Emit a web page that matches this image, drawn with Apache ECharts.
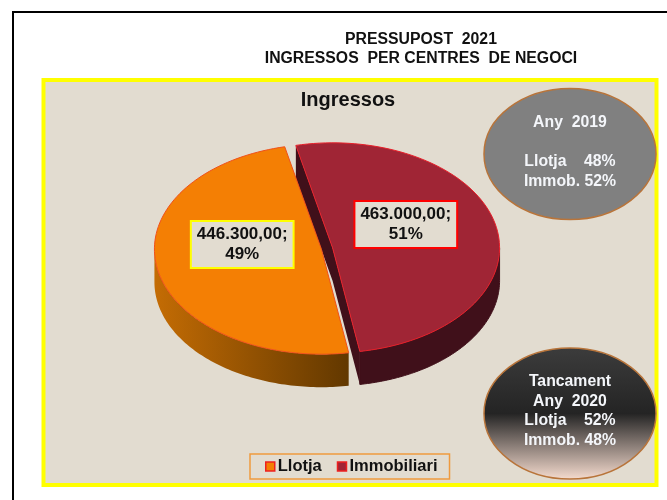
<!DOCTYPE html>
<html>
<head>
<meta charset="utf-8">
<title>Pressupost 2021</title>
<style>
    html, body { margin: 0; padding: 0; background: #fff; }
    #chart { width: 667px; height: 500px; }
</style>
<script src="https://cdn.jsdelivr.net/npm/echarts@6/dist/echarts.min.js"></script>
</head>
<body>
<div id="chart"></div>
<script>
const categories = ['Llotja', 'Immobiliari'];
const values = [446300, 463000];
const valueLabels = ['446.300,00', '463.000,00'];
const titleLines = ['PRESSUPOST  2021', 'INGRESSOS  PER CENTRES  DE NEGOCI'];
const note2019 = ['Any  2019', '', 'Llotja    48%', 'Immob. 52%'];
const note2020 = ['Tancament', 'Any  2020', 'Llotja    52%', 'Immob. 48%'];

const FONT = '"Liberation Sans", Arial, sans-serif';
const total = values[0] + values[1];

// fake 3D pie: ellipse top + extruded wall, angles clockwise from 12 o'clock
const pie = { cx: 327, cy: 248.5, a: 167, b: 105, depth: 33, startAngle: -12.7, explode: 0.034 };

const sliceStyle = [
    {
        top: '#f47f04',
        border: '#f0501a',
        wall: { type: 'linear', x: 0, y: 0, x2: 1, y2: 0, colorStops: [
            { offset: 0, color: '#c46c04' }, { offset: 1, color: '#623800' }
        ] },
        labelBorder: '#ffff00'
    },
    { top: '#a02535', border: '#e8202a', wall: '#40101a', labelBorder: '#ff0000' }
];

function sliceAngles(index) {
    // Immobiliari starts at startAngle, Llotja follows it
    const redSweep = values[1] / total * 360;
    if (index === 1) return [pie.startAngle, pie.startAngle + redSweep];
    return [pie.startAngle + redSweep, pie.startAngle + 360];
}

function ellipsePoint(cx, cy, deg, dy) {
    const rad = deg * Math.PI / 180;
    return [cx + pie.a * Math.sin(rad), cy - pie.b * Math.cos(rad) + (dy || 0)];
}

function arc(cx, cy, from, to, dy) {
    const pts = [];
    const steps = 90;
    for (let i = 0; i <= steps; i++) {
        pts.push(ellipsePoint(cx, cy, from + (to - from) * i / steps, dy));
    }
    return pts;
}

function renderSlice(index, api) {
    const value = api.value(0);
    const style = sliceStyle[index];
    const [from, to] = sliceAngles(index);
    const mid = (from + to) / 2 * Math.PI / 180;
    const cx = pie.cx + pie.a * pie.explode * Math.sin(mid);
    const cy = pie.cy - pie.b * pie.explode * Math.cos(mid);
    const children = [];

    // cut face of the slice turned to the viewer
    if (index === 1) {
        const apex = [cx, cy];
        const first = ellipsePoint(cx, cy, from);
        const last = ellipsePoint(cx, cy, to);
        children.push({
            type: 'polygon',
            shape: { points: [first, apex, last, [last[0], last[1] + pie.depth], [apex[0], apex[1] + pie.depth], [first[0], first[1] + pie.depth]] },
            style: { fill: style.wall }
        });
    }

    // front wall, only the part between 90 and 270 degrees is visible
    const wallFrom = Math.max(from, 90);
    const wallTo = Math.min(to, 270);
    const upper = arc(cx, cy, wallFrom, wallTo, 0);
    const lower = arc(cx, cy, wallFrom, wallTo, pie.depth).reverse();
    children.push({
        type: 'polygon',
        shape: { points: upper.concat(lower) },
        style: { fill: style.wall, stroke: index === 1 ? style.wall : null }
    });

    // top surface
    children.push({
        type: 'polygon',
        shape: { points: [[cx, cy]].concat(arc(cx, cy, from, to, 0)) },
        style: { fill: style.top, stroke: style.border, lineWidth: 1 }
    });

    // value label
    const labelR = 0.465;
    const pct = Math.round(value / total * 100);
    children.push({
        type: 'text',
        z2: 10,
        style: {
            x: cx + pie.a * labelR * Math.sin(mid) - 3,
            y: cy - pie.b * labelR * Math.cos(mid) - 14,
            text: valueLabels[index] + ';\n' + pct + '%',
            align: 'center',
            verticalAlign: 'middle',
            font: 'bold 17px ' + FONT,
            lineHeight: 20.5,
            fill: '#111',
            backgroundColor: '#e2dcd0',
            borderColor: style.labelBorder,
            borderWidth: 2,
            padding: [2, 5, 2, 5]
        }
    });
    return { type: 'group', children: children };
}

function noteGraphic(lines, cy, fill, firstY, step) {
    const items = [{
        type: 'ellipse',
        shape: { cx: 570, cy: cy, rx: 86, ry: 65.5 },
        style: { fill: fill, stroke: '#b8743a', lineWidth: 1.5 }
    }];
    lines.forEach((line, i) => {
        if (!line) return;
        items.push({
            type: 'text',
            style: {
                x: 570, y: firstY + i * step,
                text: line,
                align: 'center',
                verticalAlign: 'middle',
                font: 'bold 15.8px ' + FONT,
                fill: '#f4f6fa'
            }
        });
    });
    return items;
}

function renderSliceFor(index) {
    return function (params, api) {
        return renderSlice(index, api);
    };
}

const chart = echarts.init(document.getElementById('chart'), null, { renderer: 'canvas' });

chart.setOption({
    animation: false,
    backgroundColor: '#fff',
    title: [
        {
            text: titleLines.join('\n'),
            left: 416, top: 25, textAlign: 'center',
            textStyle: { fontFamily: FONT, fontSize: 15.8, fontWeight: 'bold', color: '#111', lineHeight: 19 }
        },
        {
            text: 'Ingressos',
            left: 343, top: 85, textAlign: 'center',
            textStyle: { fontFamily: FONT, fontSize: 20, fontWeight: 'bold', color: '#111' }
        }
    ],
    legend: {
        left: 250, top: 454, width: 199, height: 26,
        orient: 'horizontal',
        padding: [4, 12, 4, 15],
        itemGap: 15,
        itemWidth: 9,
        itemHeight: 9,
        icon: 'rect',
        borderColor: '#ef9a3e',
        borderWidth: 1.5,
        selectedMode: false,
        textStyle: { fontFamily: FONT, fontSize: 16.5, fontWeight: 'bold', color: '#111', padding: [0, 0, 0, -2] },
        data: categories.map((name, i) => ({
            name: name,
            itemStyle: { color: sliceStyle[i].top, borderColor: '#ee2020', borderWidth: 1.5 }
        }))
    },
    graphic: [
        {
            type: 'rect', z: -10,
            shape: { x: 13, y: 12, width: 700, height: 520 },
            style: { fill: '#fff', stroke: '#000', lineWidth: 2 }
        },
        {
            type: 'rect', z: -9,
            shape: { x: 43.5, y: 80, width: 613, height: 405 },
            style: { fill: '#e2dcd0', stroke: '#ffff00', lineWidth: 4 }
        },
        ...noteGraphic(note2019, 154, '#808080', 123, 19.5),
        ...noteGraphic(note2020, 413.5, {
            type: 'linear', x: 0, y: 0, x2: 0, y2: 1,
            colorStops: [
                { offset: 0, color: '#3c3c3c' },
                { offset: 0.5, color: '#242424' },
                { offset: 1, color: '#f6dccf' }
            ]
        }, 382, 19.5)
    ],
    series: [
        // Immobiliari goes first so the Llotja top covers its cut face
        { type: 'custom', name: categories[1], coordinateSystem: 'none', renderItem: renderSliceFor(1), data: [[values[1]]], z: 2 },
        { type: 'custom', name: categories[0], coordinateSystem: 'none', renderItem: renderSliceFor(0), data: [[values[0]]], z: 3 }
    ]
});
</script>
</body>
</html>
